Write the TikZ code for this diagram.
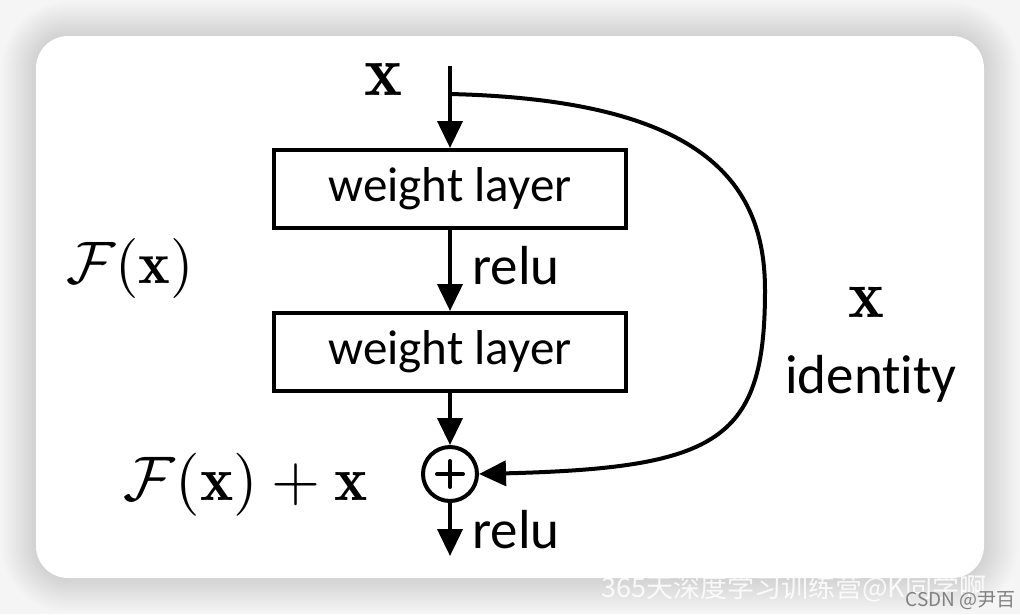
\documentclass[tikz,border=0pt]{standalone}
\usepackage{fontspec}
\usepackage{graphicx}
\newfontfamily\carlito[Ligatures=NoCommon]{Carlito}
\newfontfamily\cjk{Noto Sans CJK SC}
\usetikzlibrary{arrows.meta}
\newcommand\bigmath[2]{\scalebox{#1}{$#2$}}

\begin{document}
\begin{tikzpicture}[x=1pt,y=-1pt,
  wire/.style={line width=4pt, -{Triangle[width=25pt,length=27pt]}},
  layerbox/.style={draw, line width=4pt, minimum width=352pt, minimum height=78pt,
    inner sep=0pt, font=\carlito\fontsize{49}{52}\selectfont},
  lbl/.style={inner sep=0pt, font=\carlito\fontsize{55}{58}\selectfont},
  mathlbl/.style={inner sep=0pt, font=\fontsize{10}{12}\selectfont},
  sumnode/.style={draw, circle, line width=4pt, minimum size=54pt, inner sep=0pt,
    path picture={\draw[line width=4pt, line cap=round]
      ([xshift=-13pt]path picture bounding box.center) -- ([xshift=13pt]path picture bounding box.center)
      ([yshift=-13pt]path picture bounding box.center) -- ([yshift=13pt]path picture bounding box.center);}},
]
\useasboundingbox (0,0) rectangle (1020,614);
% page background with a soft shadow round the card
\fill[black!4] (0,0) rectangle (1020,614);
\foreach \i in {0,...,17}{
  \pgfmathsetmacro\r{32+2*\i}
  \fill[black, opacity=0.007, rounded corners=\r pt]
    (36-2*\i,36-2*\i) rectangle (984+2*\i,578+2*\i);
}
\fill[white, rounded corners=32pt] (36,36) rectangle (984,578);

% blocks
\coordinate (in) at (450,66);
\coordinate (split) at (450,94);
\node[layerbox] (w1) at (450,189) {weight layer};
\node[layerbox] (w2) at (450,352) {weight layer};
\node[sumnode] (sum) at (450,474) {};
\coordinate (out) at (450,556);

% main path
\draw[wire] (in) -- (w1.north);
\draw[wire] (w1.south) -- (w2.north);
\draw[wire] (w2.south) -- (sum.north);
\draw[wire] (sum.south) -- (out);

% identity shortcut
\draw[wire] (split) .. controls (700,100) and (765,180) .. (765,290)
  .. controls (765,440) and (720,468) .. (sum.east);

% labels
\node[mathlbl] (xin) at (384,80) {\bigmath{7.2}{\mathbf{x}}};
\node[mathlbl] (fx) at (130,268) {\bigmath{6.0}{\mathcal{F}(\mathbf{x})}};
\node[mathlbl] (fxx) at (246,485) {\bigmath{6.3}{\mathcal{F}(\mathbf{x})+\mathbf{x}}};
\node[mathlbl] (xid) at (866,302) {\bigmath{6.8}{\mathbf{x}}};
\node[lbl, anchor=west] (relu1) at (472,266) {relu};
\node[lbl, anchor=west] (relu2) at (472,530) {relu};
\node[lbl] (ident) at (871,379) {identity};

% watermark
\node[anchor=west, inner sep=0pt, text=white, opacity=0.85, font=\cjk\fontsize{27}{30}\selectfont]
  (wm) at (601,588) {365天深度学习训练营@K同学啊};
\node[anchor=east, inner sep=0pt, text=black!50, font=\cjk\fontsize{19}{22}\selectfont]
  (csdn) at (1016,601) {CSDN @尹百};
\end{tikzpicture}
\end{document}
